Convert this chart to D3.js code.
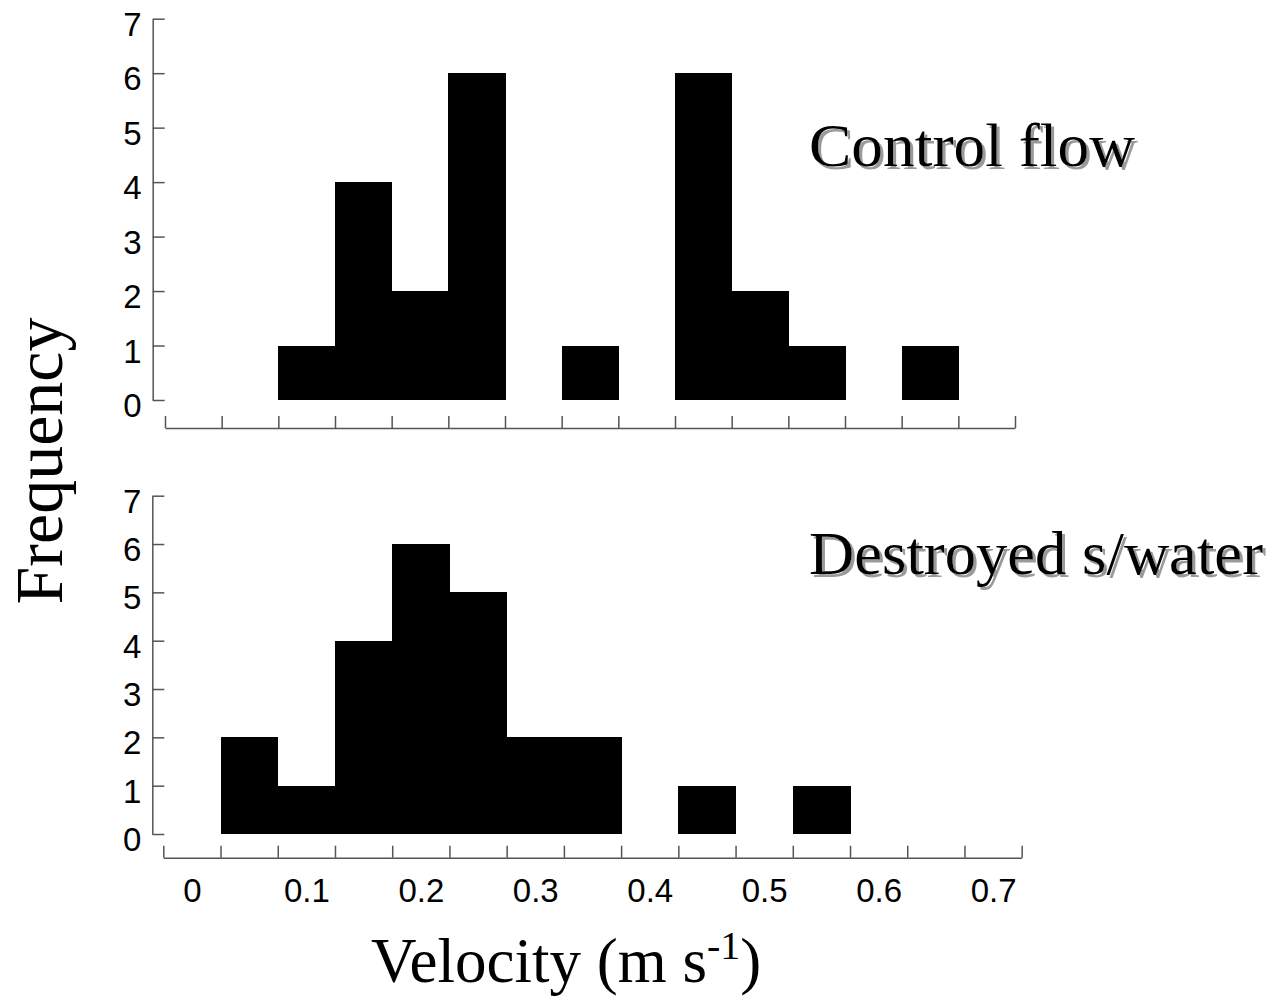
<!DOCTYPE html>
<html>
<head>
<meta charset="utf-8">
<script src="https://cdn.jsdelivr.net/npm/d3@7"></script>
<style>
  html, body { margin: 0; padding: 0; background: #fff; }
  svg { display: block; }
  .tick-label { font-family: "Liberation Sans", Arial, sans-serif; font-size: 33px; fill: #000; }
  .serif { font-family: "Liberation Serif", "Times New Roman", serif; fill: #000; }
</style>
</head>
<body>
<svg id="chart" width="1284" height="997">
  <defs>
    <filter id="shadow" x="-5%" y="-20%" width="115%" height="150%">
      <feDropShadow dx="3" dy="3" stdDeviation="0.6" flood-color="#9a9a9a" flood-opacity="1"/>
    </filter>
  </defs>
</svg>
<script>
// Velocity bins (bin centres, m/s), width 0.05
const binCentres = [0.05, 0.10, 0.15, 0.20, 0.25, 0.30, 0.35, 0.40, 0.45, 0.50, 0.55, 0.60, 0.65];
// Counts per bin
const controlCounts   = [0, 1, 4, 2, 6, 0, 1, 0, 6, 2, 1, 0, 1];
const destroyedCounts = [2, 1, 4, 6, 5, 2, 2, 0, 1, 0, 1, 0, 0];
// Axis ticks
const freqTicks = [0, 1, 2, 3, 4, 5, 6, 7];
const binEdgeTicks = d3.range(16).map(i => +(-0.025 + i * 0.05).toFixed(3));
const velocityLabels = [0, 0.1, 0.2, 0.3, 0.4, 0.5, 0.6, 0.7];
const binWidth = 0.05;

const svg = d3.select("#chart");
const axisColor = "#555";

const panels = [
  { name: "Control flow", counts: controlCounts,
    x: [165, 1015], y: [400, 18.7], xAxisY: 428, yAxisX: 152.7,
    title: { x: 809, y: 166, len: 326 }, labels: false },
  { name: "Destroyed s/water", counts: destroyedCounts,
    x: [163.3, 1021.7], y: [834, 495.7], xAxisY: 857.7, yAxisX: 152.3,
    title: { x: 809, y: 574, len: 454 }, labels: true }
];

panels.forEach(p => {
  const x = d3.scaleLinear().domain([-0.025, 0.725]).range(p.x);
  const y = d3.scaleLinear().domain([0, 7]).range(p.y);
  const g = svg.append("g");

  // histogram bars
  g.append("g")
    .attr("shape-rendering", "crispEdges")
    .selectAll("rect")
    .data(binCentres.map((c, i) => ({ c, n: p.counts[i] })).filter(d => d.n > 0))
    .join("rect")
    .attr("x", d => x(d.c - binWidth / 2))
    .attr("width", d => x(d.c + binWidth / 2) - x(d.c - binWidth / 2) + 0.5)
    .attr("y", d => y(d.n))
    .attr("height", d => y(0) - y(d.n))
    .attr("fill", "#000");

  // frequency axis, ticks pointing inward
  const ya = g.append("g")
    .attr("transform", `translate(${p.yAxisX},0)`)
    .call(d3.axisLeft(y).tickValues(freqTicks).tickFormat(d3.format("d"))
      .tickSizeInner(-12).tickSizeOuter(0).tickPadding(11));
  ya.select(".domain").attr("stroke", axisColor).attr("stroke-width", 1.5);
  ya.selectAll(".tick line").attr("stroke", axisColor).attr("stroke-width", 1.5);
  ya.selectAll(".tick text").attr("class", "tick-label").attr("font-size", null)
    .attr("font-family", null).attr("dy", "0.5em");

  // velocity axis with ticks on bin edges
  const xa = g.append("g")
    .attr("transform", `translate(0,${p.xAxisY})`)
    .call(d3.axisBottom(x).tickValues(binEdgeTicks).tickFormat("")
      .tickSizeInner(-12).tickSizeOuter(0));
  xa.select(".domain").attr("stroke", axisColor).attr("stroke-width", 1.5);
  xa.selectAll(".tick line").attr("stroke", axisColor).attr("stroke-width", 1.5);

  if (p.labels) {
    const xl = g.append("g")
      .attr("transform", `translate(0,${p.xAxisY})`)
      .call(d3.axisBottom(x).tickValues(velocityLabels).tickFormat(d3.format("")).tickSize(0).tickPadding(21));
    xl.select(".domain").remove();
    xl.selectAll(".tick text").attr("class", "tick-label").attr("font-size", null)
      .attr("font-family", null).attr("dy", "0.71em");
  }

  // panel title with drop shadow
  g.append("text")
    .attr("class", "serif")
    .attr("x", p.title.x)
    .attr("y", p.title.y)
    .attr("font-size", 61)
    .attr("textLength", p.title.len)
    .attr("lengthAdjust", "spacingAndGlyphs")
    .attr("filter", "url(#shadow)")
    .text(p.name);
});

// axis titles
const vel = svg.append("text")
  .attr("class", "serif")
  .attr("x", 371)
  .attr("y", 982)
  .attr("font-size", 63);
vel.append("tspan").text("Velocity (m s");
vel.append("tspan").attr("dy", -23).attr("font-size", 40).text("-1");
vel.append("tspan").attr("dy", 23).text(")");

svg.append("text")
  .attr("class", "serif")
  .attr("transform", "translate(62,461) rotate(-90)")
  .attr("text-anchor", "middle")
  .attr("font-size", 68)
  .text("Frequency");
</script>
</body>
</html>
